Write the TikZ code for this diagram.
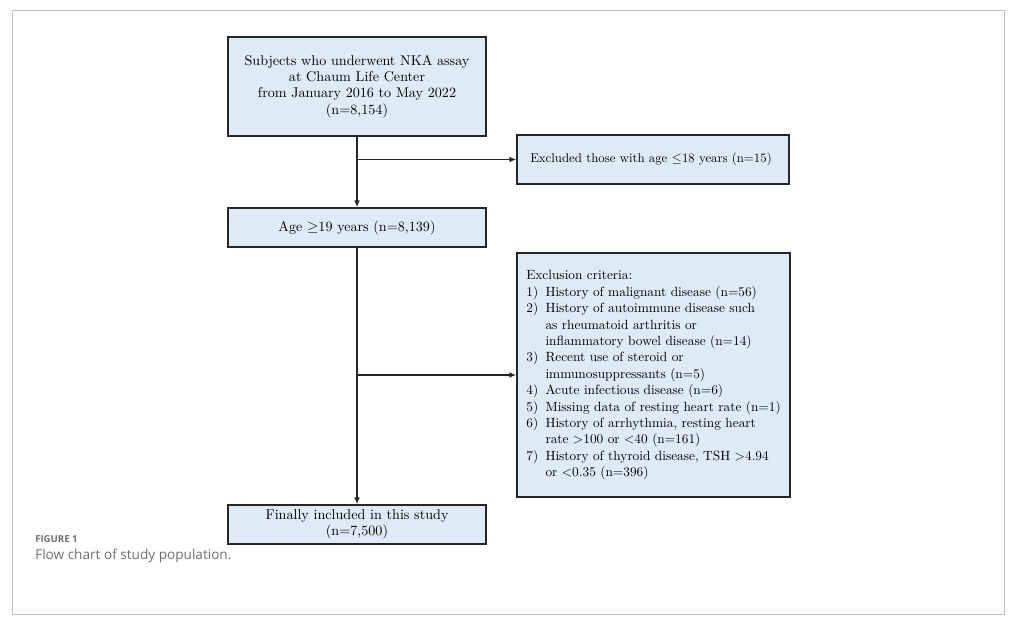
\documentclass[tikz,border=0pt]{standalone}
\usepackage{fontspec}
\newfontfamily\capfont{Open Sans}
\usepackage{tikz}
\usetikzlibrary{arrows.meta,positioning}
\definecolor{boxblue}{RGB}{222,234,246}
\definecolor{framegray}{RGB}{190,190,190}
\definecolor{capgray}{RGB}{110,110,110}

\begin{document}
\begin{tikzpicture}[
  x=0.75pt, y=-0.75pt,
  flowbox/.style={draw=black!85, line width=1.1pt, fill=boxblue, align=center, font=\fontsize{10.6}{12.3}\selectfont, inner sep=0pt},
  flowline/.style={draw=black!85, line width=1.1pt},
  flowarrow/.style={flowline, -{Latex[length=1.8mm,width=1.5mm]}}
]
\useasboundingbox (0,0) rectangle (1014,627);
\draw[framegray, line width=0.6pt] (12,10) rectangle (1004,614);

% main column
\node[flowbox, minimum width=193.5pt, minimum height=74.25pt] (top) at (357,86.5)
  {Subjects who underwent NKA assay\\at Chaum Life Center\\from January 2016 to May 2022\\(n=8,154)};
\node[flowbox, minimum width=193.5pt, minimum height=29.25pt] (age) at (357,227.5)
  {Age $\geq$19 years (n=8,139)};
\node[flowbox, minimum width=193.5pt, minimum height=29.25pt] (final) at (357,524.5)
  {Finally included in this study\\(n=7,500)};

% exclusions
\node[flowbox, minimum width=204pt, minimum height=36.75pt, font=\fontsize{9.6}{12}\selectfont] (excl1) at (653,159.5)
  {Excluded those with age $\leq$18 years (n=15)\hspace{3pt}};
\node[flowbox, minimum width=204.75pt, minimum height=183pt, inner xsep=7pt,
      text width=190.75pt, align=left, font=\fontsize{10}{12.3}\selectfont] (excl2) at (653.5,375)
  {\renewcommand{\arraystretch}{1.0}%
   \begin{tabular}{@{}l@{\hspace{5.5pt}}l@{}}
   \multicolumn{2}{@{}l}{Exclusion criteria:}\\
   1) & History of malignant disease (n=56)\\
   2) & History of autoimmune disease such\\
      & as rheumatoid arthritis or\\
      & inflammatory bowel disease (n=14)\\
   3) & Recent use of steroid or\\
      & immunosuppressants (n=5)\\
   4) & Acute infectious disease (n=6)\\
   5) & Missing data of resting heart rate (n=1)\\
   6) & History of arrhythmia, resting heart\\
      & rate $>$100 or $<$40 (n=161)\\
   7) & History of thyroid disease, TSH $>$4.94\\
      & or $<$0.35 (n=396)
   \end{tabular}};

% connectors
\coordinate (split1) at (top.south |- excl1.west);
\coordinate (split2) at (age.south |- excl2.west);
\draw[flowarrow] (top.south) -- (age.north);
\draw[flowarrow] (split1) -- (excl1.west);
\draw[flowarrow] (age.south) -- (final.north);
\draw[flowarrow] (split2) -- (excl2.west);

% caption
\node[anchor=west, inner sep=0pt, text=capgray, font=\capfont\bfseries\fontsize{7.2}{9}\selectfont] (figlabel) at (35,539) {FIGURE 1};
\node[anchor=west, inner sep=0pt, text=capgray, font=\capfont\fontsize{10.2}{12}\selectfont] (figcaption) at (35,556) {Flow chart of study population.};
\end{tikzpicture}
\end{document}
